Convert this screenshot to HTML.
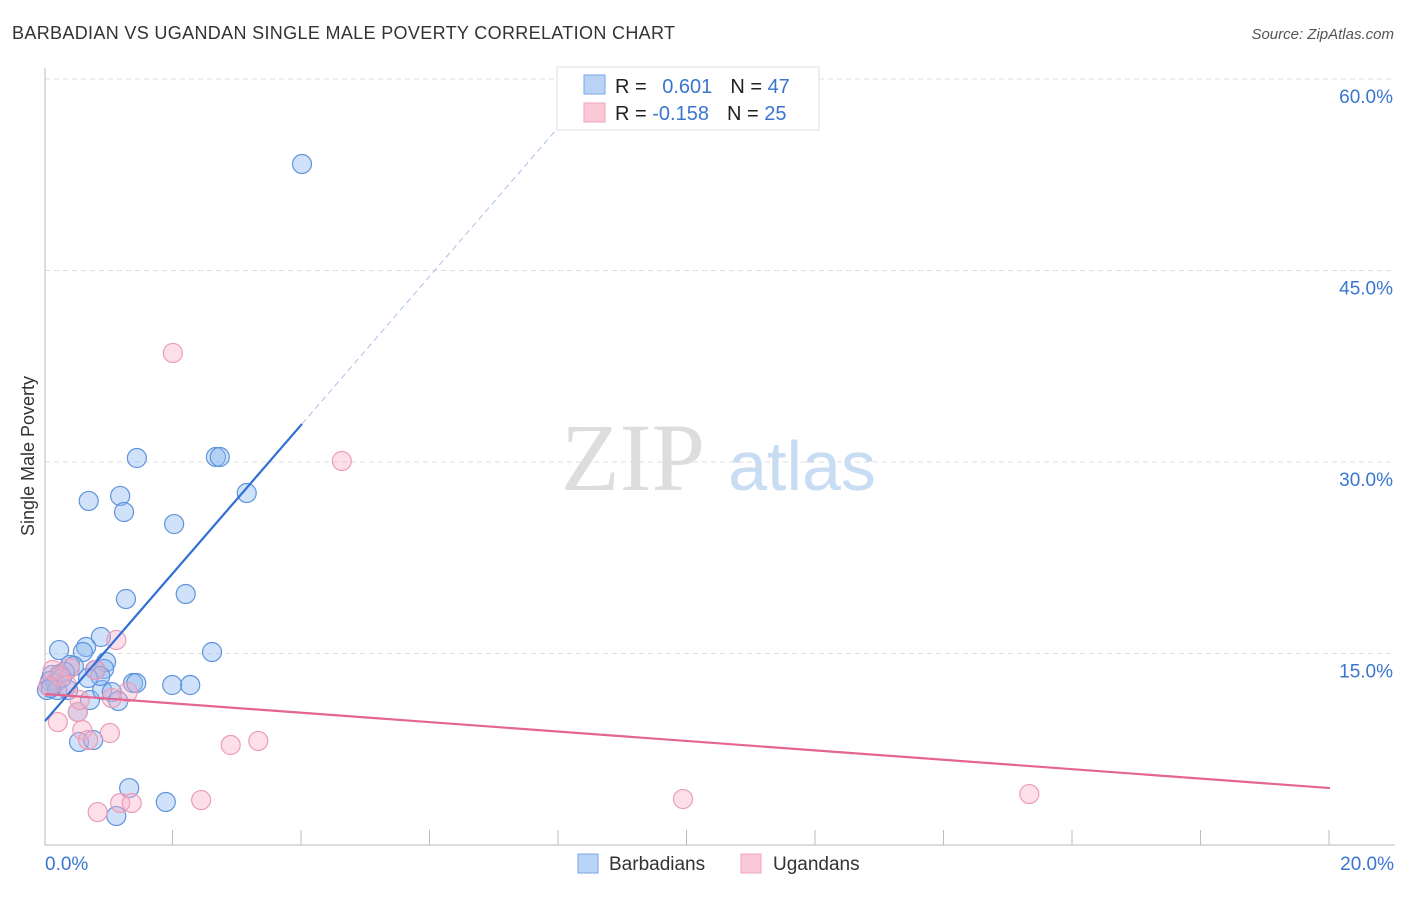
<!DOCTYPE html>
<html><head><meta charset="utf-8"><style>
body{margin:0;background:#fff;font-family:"Liberation Sans",sans-serif}
</style></head><body>
<svg width="1406" height="892" xmlns="http://www.w3.org/2000/svg" style="font-family:'Liberation Sans',sans-serif">
<text x="12" y="39" font-size="18" fill="#333" textLength="663">BARBADIAN VS UGANDAN SINGLE MALE POVERTY CORRELATION CHART</text>
<text x="1394" y="39" font-size="15" fill="#555" font-style="italic" text-anchor="end">Source: ZipAtlas.com</text>
<g id="grid"></g>
<text x="633" y="490" font-size="96" fill="#ddd" font-family="Liberation Serif" text-anchor="middle">ZIP</text>
<text x="802" y="490" font-size="70" fill="#c8dcf3" text-anchor="middle">atlas</text>
<g id="marks"></g>
<text transform="translate(34,456) rotate(-90)" font-size="18" fill="#333" text-anchor="middle">Single Male Poverty</text>
<text x="45" y="870" font-size="19" fill="#3a76d0">0.0%</text>
<text x="1394" y="870" font-size="19" fill="#3a76d0" text-anchor="end">20.0%</text>
<g>
<rect x="557" y="67" width="262" height="63" fill="#fff" stroke="#ddd"/>
<rect x="584" y="75" width="21" height="19" fill="#b9d3f5" stroke="#7aa6e6"/>
<rect x="584" y="103" width="21" height="19" fill="#fbc8d7" stroke="#eea3bb"/>
<text x="615" y="93" font-size="20" fill="#222">R = <tspan fill="#3a76d0" dx="10">0.601</tspan><tspan dx="18" fill="#222">N = </tspan><tspan fill="#3a76d0">47</tspan></text>
<text x="615" y="120" font-size="20" fill="#222">R = <tspan fill="#3a76d0">-0.158</tspan><tspan dx="18" fill="#222">N = </tspan><tspan fill="#3a76d0">25</tspan></text>
</g>
<g>
<rect x="578" y="854" width="20" height="19" fill="#b9d3f5" stroke="#7aa6e6"/>
<text x="609" y="870" font-size="19" fill="#333">Barbadians</text>
<rect x="741" y="854" width="20" height="19" fill="#fbc8d7" stroke="#eea3bb"/>
<text x="773" y="870" font-size="19" fill="#333">Ugandans</text>
</g>
</svg>
<script>
const yTicks=[15,30,45,60];
const yTickLabels=["15.0%","30.0%","45.0%","60.0%"];
const xTicks=[2,4,6,8,10,12,14,16,18,20];
const blueX=[4.00,1.43,2.66,2.72,3.14,0.68,1.17,1.23,2.01,1.26,2.19,2.60,0.87,0.22,0.64,0.59,0.95,0.92,0.78,0.39,0.45,0.23,0.31,0.11,0.08,0.16,0.03,0.36,0.70,0.89,1.04,1.14,1.37,1.42,1.98,2.26,0.51,0.53,0.75,1.31,1.88,1.11,0.86,0.26,0.19,0.09,0.67];
const blueY=[53.34,30.31,30.39,30.39,27.57,26.95,27.34,26.08,25.14,19.27,19.66,15.12,16.29,15.27,15.51,15.12,14.33,13.79,13.71,14.10,14.02,13.39,13.55,13.32,12.85,12.69,12.14,12.14,11.36,12.14,11.98,11.28,12.69,12.69,12.53,12.53,10.42,8.07,8.22,4.46,3.37,2.27,13.24,13.08,12.14,12.30,13.08];
const pinkX=[1.99,4.62,1.11,0.79,0.39,0.12,0.23,0.05,1.29,1.04,0.51,0.20,0.58,1.01,0.67,2.89,3.32,0.82,1.17,1.35,2.43,9.93,15.32,0.54,0.34];
const pinkY=[38.54,30.08,16.06,13.71,13.86,13.71,13.24,12.45,11.98,11.51,10.42,9.63,9.01,8.77,8.22,7.83,8.15,2.58,3.29,3.29,3.52,3.60,3.99,11.36,12.53];
const blueLine=[[0,9.71],[4.0,32.98]];
const blueDash=[[4.0,32.98],[8.64,60]];
const pinkLine=[[0,11.83],[20,4.46]];
const NS="http://www.w3.org/2000/svg";
const X=v=>45+v*64.25, Y=v=>845-v*12.767;
function mk(t,a,p){const e=document.createElementNS(NS,t);for(const k in a)e.setAttribute(k,a[k]);p.appendChild(e);return e;}
const g=document.getElementById('grid'), m=document.getElementById('marks');
yTicks.forEach((t,i)=>{
 const l=mk('line',{x1:45,x2:1395,y1:Y(t),y2:Y(t),stroke:'#ddd','stroke-dasharray':'5,4'},g);
 
 
 const tx=mk('text',{x:1393,y:Y(t)+24,'font-size':19,fill:'#3a76d0','text-anchor':'end'},g);
 tx.textContent=yTickLabels[i];
 
 
});
const ax=mk('path',{d:'M45 68 V845 H1395',fill:'none',stroke:'#bbb'},g);


xTicks.forEach(t=>{
 const l=mk('line',{x1:X(t)-1,x2:X(t)-1,y1:830,y2:845,stroke:'#bbb'},g);
 
 
});
blueX.forEach((x,i)=>{
 const c=mk('circle',{cx:X(x),cy:Y(blueY[i]),r:9.5,fill:'rgba(140,185,240,0.42)',stroke:'#5f93dc','stroke-width':1.2},m);
 
 
});
pinkX.forEach((x,i)=>{
 const c=mk('circle',{cx:X(x),cy:Y(pinkY[i]),r:9.5,fill:'rgba(248,175,200,0.4)',stroke:'#eb9cb7','stroke-width':1.2},m);
 
 
});
const bl=mk('line',{x1:X(blueLine[0][0]),y1:Y(blueLine[0][1]),x2:X(blueLine[1][0]),y2:Y(blueLine[1][1]),stroke:'#2f6fd6','stroke-width':2.2},m);


const bd=mk('line',{x1:X(blueDash[0][0]),y1:Y(blueDash[0][1]),x2:X(blueDash[1][0]),y2:Y(blueDash[1][1]),stroke:'#a9c3e6','stroke-width':1,'stroke-dasharray':'6,4'},m);


const pl=mk('line',{x1:X(pinkLine[0][0]),y1:Y(pinkLine[0][1]),x2:X(pinkLine[1][0]),y2:Y(pinkLine[1][1]),stroke:'#e4658f','stroke-width':2.2},m);


</script>
</body></html>
